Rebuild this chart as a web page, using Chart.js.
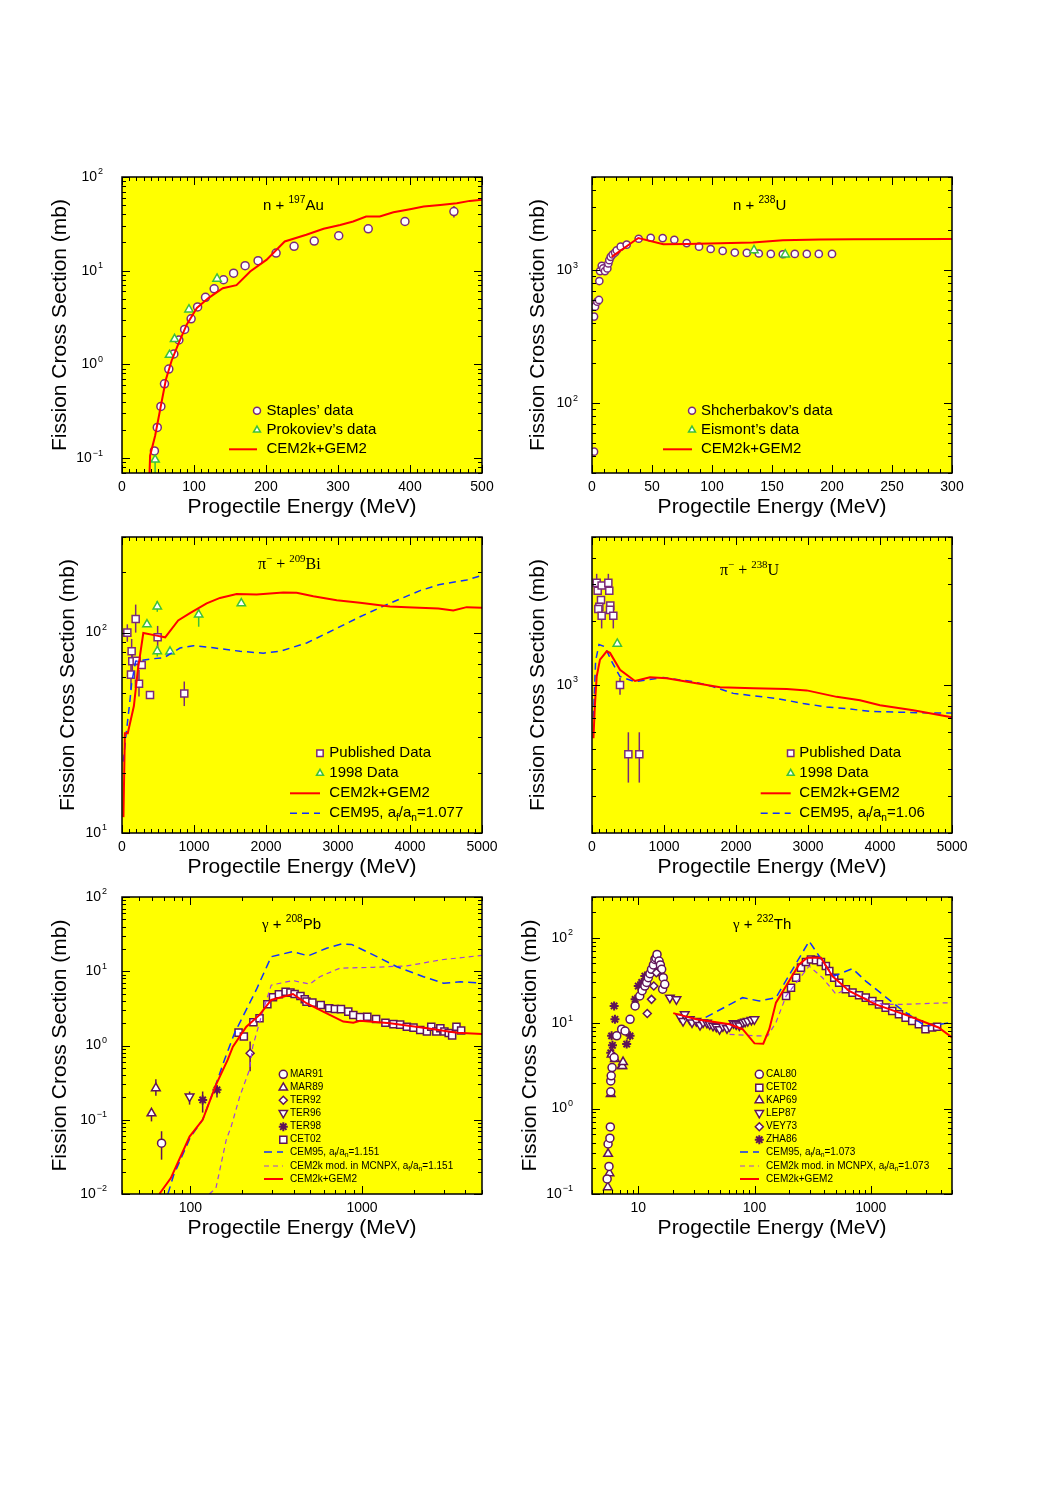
<!DOCTYPE html>
<html>
<head>
<meta charset="utf-8">
<script src="https://cdn.jsdelivr.net/npm/chart.js@4.4.1/dist/chart.umd.min.js"></script>
<style>
body{margin:0;background:#fff;width:1063px;height:1501px;position:relative;overflow:hidden}
canvas{position:absolute}
</style>
</head>
<body>
<canvas id="c1"></canvas><canvas id="c2"></canvas>
<canvas id="c3"></canvas><canvas id="c4"></canvas>
<canvas id="c5"></canvas><canvas id="c6"></canvas>
<script>
// ---- n + 197Au
const auStaplesE = [45,49,54,59,65,72,79,87,96,105,116,128,141,155,171,189,214,239,267,301,342,393,461];
const auStaplesS = [0.119,0.212,0.355,0.62,0.89,1.29,1.82,2.36,3.06,4.1,5.2,6.4,8.0,9.4,11.3,12.8,15.4,18.2,20.7,23.6,28.0,33.5,42.8];
const auStaplesLo = [null,null,null,null,null,null,null,null,null,null,null,null,null,null,null,null,null,null,null,null,null,null,37];
const auStaplesHi = [null,null,null,null,null,null,null,null,null,null,null,null,null,null,null,null,null,null,null,null,null,null,49];
const auProkE = [46,66,73,93,132];
const auProkS = [0.096,1.26,1.86,3.85,8.2];
const auProkLo = [0.05,null,null,null,null];
const auProkHi = [0.108,null,null,null,null];
const auCemE = [38,39,46,53,61,69,78,90,104,120,140,159,178,201,226,256,280,303,321,339,358,377,400,419,442,465,483,500];
const auCemS = [0.06,0.106,0.173,0.33,0.69,1.1,1.63,2.67,4.0,5.1,6.5,7.0,9.8,13.1,20.5,24.2,28,30.8,33.5,37.8,37.8,42,45.3,48.3,50.3,52.5,55.6,57];

// ---- n + 238U
const uShchE = [1.7,1.7,2.5,4.4,5.8,6.1,6.7,8.1,9.4,10.8,12.8,13.6,14.4,15.6,17.2,19.2,20.6,23.9,28.9,38.9,48.9,58.9,68.6,78.9,89.2,98.9,108.9,119,129,139,149,159,169,179,189,200];
const uShchS = [43.4,448,532,580,597,828,984,1077,1030,984,1030,1122,1188,1258,1310,1355,1409,1500,1552,1720,1750,1740,1690,1596,1500,1441,1393,1355,1346,1333,1323,1316,1323,1323,1323,1323];
const uEisE = [135,161];
const uEisS = [1410,1310];
const uEisLo = [1320,1230];
const uEisHi = [1500,1400];
const uCemE = [16.4,38.6,59.4,78.9,106.7,134,159,190,218,300];
const uCemS = [1257,1741,1563,1571,1589,1610,1675,1694,1703,1713];

// ---- pi- + 209Bi
const biPubE = [74,125,134,143,190,204,236,273,389,495,865];
const biPubS = [100,61.7,80.7,71.9,117,72.4,55.6,68.9,48.8,94.8,49.7];
const biPubLo = [90,52,70,62,100,null,48,null,null,82,43];
const biPubHi = [110,73,93,83,138,null,65,null,null,108,57];
const biNewE = [347,490,490,667,1065,1657];
const biNewS = [110,135,80.7,80.4,123,140];
const biNewLo = [null,127,76,null,107,null];
const biNewHi = [null,144,86,null,131,null];
const biCemE = [20,40,80,165,220,296,480,600,780,944,1176,1361,1593,1870,2240,2426,2657,2982,3306,3722,3954,4393,4601,4787,5000];
const biCemS = [12,31.5,31.5,43,65,99.5,96.6,94.7,115,125,140,149,156,155,158.6,158,152,145,141,135,134,132,129,134,133];
const biC95E = [19,56,111,134,190,389,583,806,990,1268,1639,1963,2194,2565,2982,3306,3676,4139,4417,4787,5000];
const biC95S = [22.7,30.9,46,56,72,73.8,75,83.8,86,84,80.7,79,80.7,88.8,105,120,138,162,174,183,193];

// ---- pi- + 238U
const upPubE = [65,79,134,227,240,125,102,88,134,254,250,296,389,505,657];
const upPubS = [3035,2785,2950,3035,2785,2522,2343,2285,2123,2370,2264,2123,1000,471,471];
const upPubLo = [2700,null,null,2700,null,null,null,null,1850,null,null,1850,900,346,346];
const upPubHi = [3350,null,null,3350,null,null,null,null,2400,null,null,2400,1080,598,598];
const upNewE = [351];
const upNewS = [1566];
const upCemE = [20,40,65,111,204,250,389,597,806,1037,1407,1778,2241,2704,2982,3398,3722,4000,4463,4996];
const upCemS = [560,800,1096,1317,1443,1418,1180,1045,1088,1076,1026,975,964,957,943,879,848,802,760,705];
const upC95E = [20,50,97,180,273,389,597,990,1407,1685,1963,2241,2565,2935,3259,3583,3861,4324,4787,4996];
const upC95S = [700,1300,1553,1515,1292,1096,1037,1084,1037,981,913,889,864,818,788,770,751,743,737,737];

// ---- gamma + 208Pb
const pbCetE = [191,205,233,253,281,303,328,359,383,405,438,464,475,514,575,644,695,754,832,890,974,1074,1208,1369,1525,1668,1825,1995,2184,2389,2532,2710,2860,3020,3200,3350,3550,3780];
const pbCetS = [1.49,1.32,2.06,2.33,3.59,4.47,4.9,5.3,5.15,4.94,4.65,4.2,3.9,3.78,3.52,3.18,3.11,3.09,2.86,2.58,2.41,2.44,2.28,2.03,1.94,1.91,1.79,1.74,1.62,1.54,1.79,1.54,1.71,1.54,1.47,1.36,1.79,1.59];
const pbMar91E = [68], pbMar91S = [0.0484], pbMar91Lo = [0.029], pbMar91Hi = [0.07];
const pbMar89E = [59.4,63], pbMar89S = [0.122,0.266], pbMar89Lo = [0.095,0.21], pbMar89Hi = [0.14,0.35];
const pbTer92E = [223], pbTer92S = [0.787], pbTer92Lo = [0.45], pbTer92Hi = [1.13];
const pbTer96E = [99], pbTer96S = [0.205], pbTer96Lo = [0.16], pbTer96Hi = [0.24];
const pbTer98E = [118,143], pbTer98S = [0.185,0.253], pbTer98Lo = [0.125,0.2], pbTer98Hi = [0.24,0.29];
const pbCemE = [66,77,99,118,141,165,177,212,253,296,396,475,594,778,890,974,1459,2280,3580,5000];
const pbCemS = [0.01,0.0164,0.0594,0.1,0.295,0.64,0.966,1.79,2.58,4.11,4.94,3.71,2.86,2.1,2.03,2.15,2.0,1.74,1.49,1.43];
const pbC95E = [74,80,100,118,141,158,181,242,296,396,485,622,760,870,1164,1597,2280,2985,3740,5000];
const pbC95S = [0.01,0.018,0.058,0.1,0.3,0.64,1.47,5.6,15.7,18.4,16.1,20.4,23.3,23,16.6,11.5,8.45,6.9,7.2,6.9];
const pbModE = [129,141,162,173,194,221,231,259,296,396,497,568,743,1164,1825,2860,5000];
const pbModS = [0.01,0.012,0.054,0.081,0.205,0.47,0.97,2.45,6.5,7.5,6.7,8.45,11,11.3,11.8,14.2,16.4];

// ---- gamma + 232Th
const thCalE = [5.4,5.6,5.5,5.7,5.75,5.8,5.8,5.85,5.95,6.2,6.53,7.2,7.7,8.5,9.4,10.3,10.8,11.4,11.8,12.2,12.6,13.0,13.5,13.9,14.2,14.5,14.8,15.1,15.5,15.9,16.2,16.4,16.9];
const thCalS = [0.15,0.21,0.385,0.45,0.61,1.57,2.11,2.42,3.02,3.96,7.1,8.5,8.1,11.1,15.9,20.8,24,27.2,30,34.1,38,42.7,48,55.7,58,63.8,40,53.4,48,42.7,25,34.1,28.5];
const thLepE = [18.7,21.3,23,24.3,25.1,27.7,29,31.6,34,36.1,39,41.2,44,46.9,50,53.5,58,61,66,69.6,74,79.4,83,87.6,94,99.8];
const thLepS = [19.9,19,11.8,10.6,12.7,11.1,10.2,10.6,9.5,10.2,10.1,9.7,9.3,9.1,8.5,9.2,8.7,9.2,10,9.7,9.4,10.2,10.4,10.6,10.9,11.1];
const thKapE = [5.47,5.65,5.5,5.8,5.9,6.3,7.2,7.3,7.4];
const thKapS = [0.12,0.175,0.295,1.48,4.3,3.8,3.16,3.16,3.5];
const thVeyE = [11.95,13,13.6,14.3];
const thVeyS = [13,19,27.2,39];
const thZhaE = [5.8,5.9,6.0,6.2,6.3,7.95,8.5,9.4,10,10.7,11.4];
const thZhaS = [4.5,7.1,5.5,15.9,11.1,5.7,7.1,19,27.2,30,35.6];
const thCetE = [187,206,228,251,277,306,338,373,411,440,485,535,611,697,794,906,1033,1178,1343,1531,1749,1995,2275,2594,2958,3373,3724];
const thCetS = [20.8,26,34,44.7,51.9,55.7,54.7,51.9,46.6,40.7,34,29.8,24.9,22.8,21.2,19.9,18.2,16.6,15.2,13.9,12.7,11.6,10.6,9.7,8.5,8.9,9.1];
const thCemE = [20,31.6,61,79,100,119,134,153,187,242,284,373,467,652,1100,2140,3830,5000];
const thCemS = [13.1,11.1,9.7,8.5,5.8,5.75,8.5,17.4,27.2,48.8,58.3,58.3,35.6,23.8,16.6,12.1,8.9,6.8];
const thC95E = [38,79,110,153,295,411,485,697,906,1750,2958,5000];
const thC95S = [11.7,19.9,18.2,19.9,91,46.6,35.6,43.5,31.1,15.2,9.2,10.2];
const thModE = [61,103,130,153,187,295,385,503,611,794,1253,1870,5000];
const thModS = [7.4,7.1,7.1,10.2,20.8,46.6,34,21.8,24.9,20.8,16.6,16.6,17.4];

const SANS = '"Liberation Sans", Arial, Helvetica, sans-serif';
const SERIF = '"Liberation Serif", "Times New Roman", serif';
const PUR = '#7a2a78', PUR2 = '#5f1458', GRN = '#3cbf3c', RED = '#ff0000', BLUE = '#1030ff', VIO = '#a040e0';

function pts(xs, ys) { return xs.map((x, i) => ({x: x, y: ys[i]})); }
function marks(xs, ys, style, r, color, extra) {
  return Object.assign({data: pts(xs, ys), showLine: false, pointStyle: style, pointRadius: r,
    pointBorderColor: color, pointBackgroundColor: '#fff', pointBorderWidth: 1.5, order: 1}, extra || {});
}
function curve(xs, ys, color, w, dash) {
  return {data: pts(xs, ys), showLine: true, pointRadius: 0, borderColor: color, borderWidth: w,
    borderDash: dash || [], tension: 0, order: 0};
}

function logTicks(min, max) {
  const major = [], minor = [];
  for (let e = Math.floor(Math.log10(min)); e <= Math.ceil(Math.log10(max)); e++) {
    for (let m = 1; m < 10; m++) {
      const v = m * Math.pow(10, e);
      if (v < min * 0.999 || v > max * 1.001) continue;
      (m === 1 ? major : minor).push(v);
    }
  }
  return {major, minor};
}
function linTicks(min, max, step, mstep) {
  const major = [], minor = [];
  for (let v = min; v <= max + 1e-9; v += mstep) {
    if (Math.abs(v / step - Math.round(v / step)) < 1e-6) major.push(v); else minor.push(v);
  }
  return {major, minor};
}

function rich(ctx, segs, x, y, size, fam) {
  let cx = x;
  segs.forEach(s => {
    const o = typeof s === 'string' ? {t: s} : s;
    const k = o.k || 0;
    const sz = k ? size * 0.68 : size;
    ctx.font = sz + 'px ' + (o.f || fam);
    ctx.fillText(o.t, cx, y + (k === 1 ? -size * 0.45 : k === -1 ? size * 0.3 : 0));
    cx += ctx.measureText(o.t).width;
  });
}

function drawMarker(ctx, style, r, rot, x, y, stroke, lw) {
  ctx.save();
  ctx.strokeStyle = stroke; ctx.fillStyle = '#ffffff'; ctx.lineWidth = lw;
  Chart.helpers.drawPoint(ctx, {pointStyle: style, radius: r, rotation: rot, borderWidth: lw}, x, y);
  ctx.restore();
}

const frameCfg = {};   // per-canvas axis/legend settings, kept outside Chart.js option resolution

const framePlugin = {
  id: 'frame',
  beforeDraw(chart) {
    const a = chart.chartArea, ctx = chart.ctx;
    ctx.save(); ctx.fillStyle = '#ffff00';
    ctx.fillRect(a.left, a.top, a.right - a.left, a.bottom - a.top); ctx.restore();
  },
  beforeDatasetsDraw(chart) {
    const a = chart.chartArea, ctx = chart.ctx, xs = chart.scales.x, ys = chart.scales.y;
    ctx.save();
    ctx.beginPath(); ctx.rect(a.left, a.top, a.right - a.left, a.bottom - a.top); ctx.clip();
    chart.data.datasets.forEach(ds => {
      if (!ds.errLo) return;
      ctx.strokeStyle = ds.pointBorderColor; ctx.lineWidth = 1.5;
      ds.data.forEach((p, i) => {
        if (ds.errLo[i] == null) return;
        const x = xs.getPixelForValue(p.x);
        ctx.beginPath();
        ctx.moveTo(x, ys.getPixelForValue(ds.errLo[i]));
        ctx.lineTo(x, ys.getPixelForValue(ds.errHi[i]));
        ctx.stroke();
      });
    });
    ctx.restore();
  },
  afterDraw(chart) {
    const o = frameCfg[chart.canvas.id];
    const a = chart.chartArea, ctx = chart.ctx, xs = chart.scales.x, ys = chart.scales.y;
    ctx.save();
    // ticks, pointing inward on all four sides
    const xt = o.xLog ? logTicks(xs.min, xs.max) : linTicks(xs.min, xs.max, o.xStep, o.xMinor);
    const yt = logTicks(ys.min, ys.max);
    ctx.strokeStyle = '#000'; ctx.lineWidth = 1;
    ctx.beginPath();
    [[xt.major, 8], [xt.minor, 4]].forEach(([vals, len]) => vals.forEach(v => {
      const x = Math.round(xs.getPixelForValue(v)) + 0.5;
      ctx.moveTo(x, a.bottom); ctx.lineTo(x, a.bottom - len);
      ctx.moveTo(x, a.top); ctx.lineTo(x, a.top + len);
    }));
    [[yt.major, 8], [yt.minor, 4]].forEach(([vals, len]) => vals.forEach(v => {
      const y = Math.round(ys.getPixelForValue(v)) + 0.5;
      ctx.moveTo(a.left, y); ctx.lineTo(a.left + len, y);
      ctx.moveTo(a.right, y); ctx.lineTo(a.right - len, y);
    }));
    ctx.stroke();
    ctx.lineWidth = 1.5;
    ctx.strokeRect(a.left, a.top, a.right - a.left, a.bottom - a.top);
    // tick labels
    ctx.fillStyle = '#000';
    ctx.textBaseline = 'middle';
    ctx.textAlign = 'center'; ctx.font = '14px ' + SANS;
    xt.major.forEach(v => ctx.fillText(String(Math.round(v)), xs.getPixelForValue(v), a.bottom + 14));
    ctx.textAlign = 'left';
    yt.major.forEach(v => {
      const e = Math.round(Math.log10(v));
      const sup = e < 0 ? '\u2212' + (-e) : String(e);
      ctx.font = '14px ' + SANS; const wb = ctx.measureText('10').width;
      ctx.font = '9px ' + SANS; const ws = ctx.measureText(sup).width;
      const y = ys.getPixelForValue(v), x0 = a.left - o.yGap - ws - wb - 1;
      ctx.font = '14px ' + SANS; ctx.fillText('10', x0, y);
      ctx.font = '9px ' + SANS; ctx.fillText(sup, x0 + wb + 1, y - 5);
    });
    // axis titles
    ctx.font = '21px ' + SANS; ctx.textAlign = 'center';
    ctx.fillText('Progectile Energy (MeV)', (a.left + a.right) / 2, a.bottom + 34);
    ctx.save();
    ctx.translate(a.left - o.yTitle, (a.top + a.bottom) / 2); ctx.rotate(-Math.PI / 2);
    ctx.fillText('Fission Cross Section (mb)', 0, 0);
    ctx.restore();
    // panel title
    ctx.textAlign = 'left'; ctx.textBaseline = 'alphabetic';
    rich(ctx, o.title.segs, a.left + o.title.x, a.top + o.title.y, o.title.size, SANS);
    // legend
    const L = o.legend;
    ctx.textBaseline = 'middle';
    L.items.forEach((it, i) => {
      const y = a.top + L.rows[i];
      if (it.line) {
        ctx.save(); ctx.strokeStyle = it.line; ctx.lineWidth = it.w; ctx.setLineDash(it.dash || []);
        ctx.beginPath(); ctx.moveTo(a.left + L.lx0, y); ctx.lineTo(a.left + L.lx1, y); ctx.stroke();
        ctx.restore();
      } else {
        drawMarker(ctx, it.style, it.r, it.rot || 0, a.left + L.mx, y, it.color, it.lw || 1.5);
      }
      ctx.fillStyle = '#000';
      rich(ctx, it.label, a.left + L.tx, y, L.size, SANS);
    });
    ctx.restore();
  }
};

function make(id, PL, PT, PH, cfg) {
  const cv = document.getElementById(id);
  const padL = 95, padT = 25, padR = 25, padB = 60;
  cv.width = 360 + padL + padR; cv.height = PH + padT + padB;
  cv.style.left = (PL - padL) + 'px'; cv.style.top = (PT - padT) + 'px';
  frameCfg[id] = cfg.frame;
  new Chart(cv, {
    type: 'scatter',
    data: {datasets: cfg.datasets},
    options: {
      responsive: false, animation: false, devicePixelRatio: 1,
      layout: {padding: {left: padL, right: padR, top: padT, bottom: padB}},
      scales: {
        x: {type: cfg.xLog ? 'logarithmic' : 'linear', min: cfg.xMin, max: cfg.xMax, display: false},
        y: {type: 'logarithmic', min: cfg.yMin, max: cfg.yMax, display: false}
      },
      plugins: {legend: {display: false}, tooltip: {enabled: false}}
    },
    plugins: [framePlugin]
  });
}

const subA = (v) => ['CEM95, a', {t: 'f', k: -1}, '/a', {t: 'n', k: -1}, '=' + v];
const subM = (v) => ['CEM2k mod. in MCNPX, a', {t: 'f', k: -1}, '/a', {t: 'n', k: -1}, '=' + v];

// panel 1
make('c1', 122, 177, 296, {
  xMin: 0, xMax: 500, yMin: 0.0692, yMax: 100,
  datasets: [
    curve(auCemE, auCemS, RED, 2),
    marks(auProkE, auProkS, 'triangle', 4.8, GRN, {errLo: auProkLo, errHi: auProkHi}),
    marks(auStaplesE, auStaplesS, 'circle', 4, PUR, {errLo: auStaplesLo, errHi: auStaplesHi})
  ],
  frame: {xStep: 100, xMinor: 10, yGap: 19, yTitle: 62,
    title: {x: 141, y: 33, size: 15, segs: ['n + ', {t: '197', k: 1}, 'Au']},
    legend: {size: 15, mx: 135, tx: 144.5, lx0: 107, lx1: 135, rows: [233.7, 253, 272.3], items: [
      {style: 'circle', r: 3.5, color: PUR, label: ['Staples\u2019 data']},
      {style: 'triangle', r: 4, color: GRN, label: ['Prokoviev\u2019s data']},
      {line: RED, w: 2, label: ['CEM2k+GEM2']}
    ]}}
});

// panel 2
make('c2', 592, 177, 296, {
  xMin: 0, xMax: 300, yMin: 30, yMax: 5000,
  datasets: [
    curve(uCemE, uCemS, RED, 2),
    marks(uEisE, uEisS, 'triangle', 4.8, GRN, {errLo: uEisLo, errHi: uEisHi}),
    marks(uShchE, uShchS, 'circle', 3.6, PUR)
  ],
  frame: {xStep: 50, xMinor: 10, yGap: 14, yTitle: 54,
    title: {x: 141, y: 33, size: 15, segs: ['n + ', {t: '238', k: 1}, 'U']},
    legend: {size: 15, mx: 100, tx: 109, lx0: 71, lx1: 100, rows: [233.7, 253, 272.3], items: [
      {style: 'circle', r: 3.5, color: PUR, label: ['Shcherbakov\u2019s data']},
      {style: 'triangle', r: 4, color: GRN, label: ['Eismont\u2019s data']},
      {line: RED, w: 2, label: ['CEM2k+GEM2']}
    ]}}
});

// panel 3
make('c3', 122, 537, 296, {
  xMin: 0, xMax: 5000, yMin: 10, yMax: 300,
  datasets: [
    curve(biCemE, biCemS, RED, 2),
    curve(biC95E, biC95S, BLUE, 1.5, [7, 5]),
    marks(biNewE, biNewS, 'triangle', 4.8, GRN, {errLo: biNewLo, errHi: biNewHi}),
    marks(biPubE, biPubS, 'rect', 5, PUR, {errLo: biPubLo, errHi: biPubHi})
  ],
  frame: {xStep: 1000, xMinor: 100, yGap: 15, yTitle: 54,
    title: {x: 136, y: 32, size: 16, segs: [{t: '\u03c0', f: SERIF}, {t: '\u2212', k: 1, f: SERIF}, {t: ' + ', f: SERIF}, {t: '209', k: 1, f: SERIF}, {t: 'Bi', f: SERIF}]},
    legend: {size: 15, mx: 198, tx: 207.3, lx0: 168, lx1: 198, rows: [216.3, 236.3, 256.3, 276.3], items: [
      {style: 'rect', r: 4.5, color: PUR, label: ['Published Data']},
      {style: 'triangle', r: 4, color: GRN, label: ['1998 Data']},
      {line: RED, w: 2, label: ['CEM2k+GEM2']},
      {line: BLUE, w: 1.5, dash: [7, 5], label: subA('1.077')}
    ]}}
});

// panel 4
make('c4', 592, 537, 296, {
  xMin: 0, xMax: 5000, yMin: 200, yMax: 5000,
  datasets: [
    curve(upCemE, upCemS, RED, 2),
    curve(upC95E, upC95S, BLUE, 1.5, [7, 5]),
    marks(upNewE, upNewS, 'triangle', 4.8, GRN),
    marks(upPubE, upPubS, 'rect', 5, PUR, {errLo: upPubLo, errHi: upPubHi})
  ],
  frame: {xStep: 1000, xMinor: 100, yGap: 14, yTitle: 54,
    title: {x: 128, y: 38, size: 16, segs: [{t: '\u03c0', f: SERIF}, {t: '\u2212', k: 1, f: SERIF}, {t: ' + ', f: SERIF}, {t: '238', k: 1, f: SERIF}, {t: 'U', f: SERIF}]},
    legend: {size: 15, mx: 198.7, tx: 207.3, lx0: 168.7, lx1: 198.7, rows: [216.3, 236.3, 256.3, 276.3], items: [
      {style: 'rect', r: 4.5, color: PUR, label: ['Published Data']},
      {style: 'triangle', r: 4, color: GRN, label: ['1998 Data']},
      {line: RED, w: 2, label: ['CEM2k+GEM2']},
      {line: BLUE, w: 1.5, dash: [7, 5], label: subA('1.06')}
    ]}}
});

// panel 5
make('c5', 122, 897, 297, {
  xLog: true, xMin: 40, xMax: 5000, yMin: 0.01, yMax: 100,
  datasets: [
    curve(pbCemE, pbCemS, RED, 2),
    curve(pbC95E, pbC95S, BLUE, 1.5, [8, 5]),
    curve(pbModE, pbModS, VIO, 1.2, [5, 4]),
    marks(pbCetE, pbCetS, 'rect', 5, PUR2),
    marks(pbMar91E, pbMar91S, 'circle', 4, PUR2, {errLo: pbMar91Lo, errHi: pbMar91Hi}),
    marks(pbMar89E, pbMar89S, 'triangle', 5, PUR2, {errLo: pbMar89Lo, errHi: pbMar89Hi}),
    marks(pbTer92E, pbTer92S, 'rectRot', 4, PUR2, {errLo: pbTer92Lo, errHi: pbTer92Hi}),
    marks(pbTer96E, pbTer96S, 'triangle', 5, PUR2, {pointRotation: 180, errLo: pbTer96Lo, errHi: pbTer96Hi}),
    marks(pbTer98E, pbTer98S, 'star', 4.5, PUR2, {pointBorderWidth: 2, errLo: pbTer98Lo, errHi: pbTer98Hi})
  ],
  frame: {xLog: true, yGap: 15, yTitle: 62,
    title: {x: 140, y: 32, size: 15, segs: [{t: '\u03b3', f: SERIF}, ' + ', {t: '208', k: 1}, 'Pb']},
    legend: {size: 10, mx: 161.3, tx: 168, lx0: 142, lx1: 161, rows: [177.3, 190.7, 203.3, 216, 229.7, 242.7, 255, 269, 282], items: [
      {style: 'circle', r: 4, color: PUR2, label: ['MAR91']},
      {style: 'triangle', r: 4.8, color: PUR2, label: ['MAR89']},
      {style: 'rectRot', r: 4, color: PUR2, label: ['TER92']},
      {style: 'triangle', r: 4.8, rot: 180, color: PUR2, label: ['TER96']},
      {style: 'star', r: 4.5, lw: 2, color: PUR2, label: ['TER98']},
      {style: 'rect', r: 5, color: PUR2, label: ['CET02']},
      {line: BLUE, w: 1.5, dash: [8, 5], label: subA('1.151')},
      {line: VIO, w: 1.2, dash: [5, 4], label: subM('1.151')},
      {line: RED, w: 2, label: ['CEM2k+GEM2']}
    ]}}
});

// panel 6
make('c6', 592, 897, 297, {
  xLog: true, xMin: 4, xMax: 5000, yMin: 0.1, yMax: 300,
  datasets: [
    curve(thCemE, thCemS, RED, 2),
    curve(thC95E, thC95S, BLUE, 1.5, [8, 5]),
    curve(thModE, thModS, VIO, 1.2, [5, 4]),
    marks(thCetE, thCetS, 'rect', 5, PUR2),
    marks(thLepE, thLepS, 'triangle', 5, PUR2, {pointRotation: 180}),
    marks(thVeyE, thVeyS, 'rectRot', 4, PUR2),
    marks(thCalE, thCalS, 'circle', 4, PUR2),
    marks(thKapE, thKapS, 'triangle', 5, PUR2),
    marks(thZhaE, thZhaS, 'star', 4.5, PUR2, {pointBorderWidth: 2})
  ],
  frame: {xLog: true, yGap: 19, yTitle: 62,
    title: {x: 141, y: 32, size: 15, segs: [{t: '\u03b3', f: SERIF}, ' + ', {t: '232', k: 1}, 'Th']},
    legend: {size: 10, mx: 167.3, tx: 174, lx0: 148, lx1: 167, rows: [177.3, 190.7, 203.3, 216, 229.7, 242.7, 255, 269, 282], items: [
      {style: 'circle', r: 4, color: PUR2, label: ['CAL80']},
      {style: 'rect', r: 5, color: PUR2, label: ['CET02']},
      {style: 'triangle', r: 4.8, color: PUR2, label: ['KAP69']},
      {style: 'triangle', r: 4.8, rot: 180, color: PUR2, label: ['LEP87']},
      {style: 'rectRot', r: 4, color: PUR2, label: ['VEY73']},
      {style: 'star', r: 4.5, lw: 2, color: PUR2, label: ['ZHA86']},
      {line: BLUE, w: 1.5, dash: [8, 5], label: subA('1.073')},
      {line: VIO, w: 1.2, dash: [5, 4], label: subM('1.073')},
      {line: RED, w: 2, label: ['CEM2k+GEM2']}
    ]}}
});
</script>
</body>
</html>
